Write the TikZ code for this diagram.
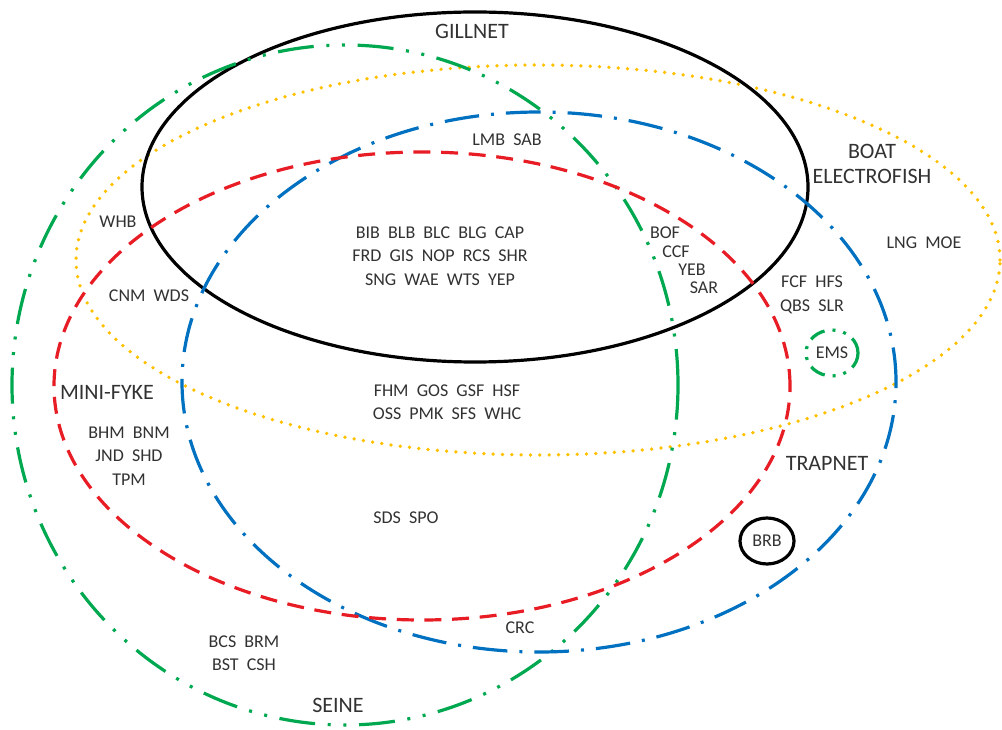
\documentclass[tikz,border=0pt]{standalone}
\usepackage{fontspec}
\setmainfont{Carlito}
\definecolor{gearred}{RGB}{232,28,36}
\definecolor{gearblue}{RGB}{0,112,192}
\definecolor{geargreen}{RGB}{0,168,80}
\definecolor{gearyellow}{RGB}{255,192,0}
\definecolor{labelgray}{RGB}{50,50,50}
\begin{document}
\begin{tikzpicture}[x=0.75pt,y=-0.75pt,
  outline/.style={line width=2.4pt},
  gillnetline/.style={outline,black},
  boatline/.style={line width=2.8pt,gearyellow,line cap=round,dash pattern=on 0pt off 7pt},
  seineline/.style={outline,geargreen,dash pattern=on 27pt off 9.5pt on 2.25pt off 9.5pt on 2.25pt off 9.5pt},
  trapline/.style={outline,gearblue,dash pattern=on 26pt off 9pt on 2.25pt off 9pt},
  fykeline/.style={outline,gearred,dash pattern=on 12.75pt off 8pt},
  species/.style={text=labelgray,align=center,font=\fontsize{13.5}{17.5}\selectfont,inner sep=0pt},
  gear/.style={text=labelgray,align=center,font=\fontsize{16.5}{19}\selectfont,inner sep=0pt}]
\useasboundingbox (0,0) rectangle (1002,730);

% gear outlines
\draw[boatline]  (538,260) ellipse [x radius={462*0.75pt}, y radius={195*0.75pt}];
\draw[gillnetline] (475,187) ellipse [x radius={333*0.75pt}, y radius={175*0.75pt}];
\draw[seineline] (345,385) ellipse [x radius={333*0.75pt}, y radius={340*0.75pt}];
\draw[trapline]  (539,382) ellipse [x radius={357*0.75pt}, y radius={270*0.75pt}];
\draw[fykeline]  (422,386) ellipse [x radius={368*0.75pt}, y radius={234*0.75pt}];

% species caught by a single small gear
\draw[outline,geargreen,dash pattern=on 12pt off 6pt on 2.25pt off 6pt on 2.25pt off 6pt]
  (832,353) ellipse [x radius={26*0.75pt}, y radius={23*0.75pt}];
\draw[gillnetline] (767,541) ellipse [x radius={27*0.75pt}, y radius={23*0.75pt}];

% gear names
\node[gear] (gillnet) at (472,31) {GILLNET};
\node[gear] (boat) at (872,164) {BOAT\\ELECTROFISH};
\node[gear] (minifyke) at (107,392) {MINI-FYKE};
\node[gear] (trapnet) at (827,463) {TRAPNET};
\node[gear] (seine) at (338,705) {SEINE};

% species codes
\node[species] (lmb) at (507,140) {LMB\ \ SAB};
\node[species] (gillcore) at (440,256) {BIB\ \ BLB\ \ BLC\ \ BLG\ \ CAP\\FRD\ \ GIS\ \ NOP\ \ RCS\ \ SHR\\SNG\ \ WAE\ \ WTS\ \ YEP};
\node[species] (whb) at (118,222) {WHB};
\node[species] (cnm) at (149,296) {CNM\ \ WDS};
\node[species] (bof) at (665,233) {BOF};
\node[species] (ccf) at (676,252) {CCF};
\node[species] (yeb) at (692,270) {YEB};
\node[species] (sar) at (704,288) {SAR};
\node[species] (fcf) at (812,295) {FCF\ \ HFS\\QBS\ \ SLR};
\node[species] (lng) at (924,243) {LNG\ \ MOE};
\node[species] (ems) at (832,353) {EMS};
\node[species] (fhm) at (447,402) {FHM\ \ GOS\ \ GSF\ \ HSF\\OSS\ \ PMK\ \ SFS\ \ WHC};
\node[species] (bhm) at (129,456) {BHM\ \ BNM\\JND\ \ SHD\\TPM};
\node[species] (sds) at (406,518) {SDS\ \ SPO};
\node[species] (brb) at (767,541) {BRB};
\node[species] (crc) at (520,628) {CRC};
\node[species] (bcs) at (244,653) {BCS\ \ BRM\\BST\ \ CSH};
\end{tikzpicture}
\end{document}
